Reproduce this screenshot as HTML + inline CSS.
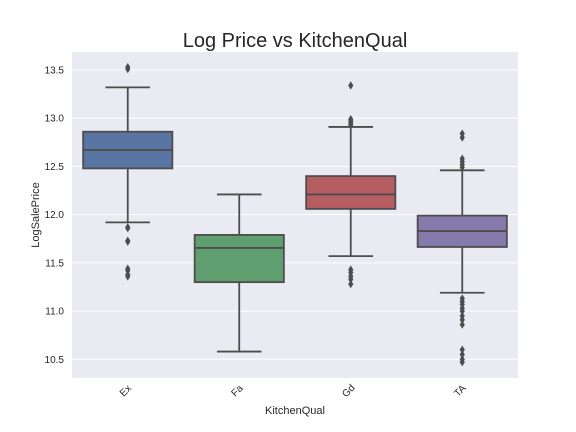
<!DOCTYPE html>
<html><head><meta charset="utf-8"><style>
html,body{margin:0;padding:0;background:#fff;}
svg{display:block;font-family:"Liberation Sans","DejaVu Sans",sans-serif;}
</style></head><body>
<svg id="chart" width="576" height="432" viewBox="0 0 576 432">
<text x="295" y="47" text-anchor="middle" font-size="20" fill="#262626">Log Price vs KitchenQual</text>
<rect x="72" y="52" width="446" height="326" fill="#eaeaf2"/>
<g id="grid"></g><g id="yticks"></g><g id="xticks"></g><g id="boxes"></g>
<text x="295" y="414" text-anchor="middle" font-size="11" fill="#262626">KitchenQual</text>
<text transform="translate(39,215) rotate(-90)" text-anchor="middle" font-size="11" fill="#262626">LogSalePrice</text>
</svg>
<script>
const categories=["Ex","Fa","Gd","TA"];
const colors=["#5975a4","#5f9e6e","#b55d60","#857aab"];
const whiskerHigh=[13.32,12.21,12.91,12.46];
const q3=[12.86,11.79,12.40,11.99];
const median=[12.67,11.655,12.21,11.83];
const q1=[12.48,11.30,12.06,11.665];
const whiskerLow=[11.92,10.58,11.57,11.19];
const outliers=[
 [13.53,13.51,11.87,11.86,11.73,11.72,11.44,11.42,11.38,11.36],
 [],
 [13.34,12.99,12.97,12.95,12.93,11.43,11.40,11.36,11.33,11.28],
 [12.84,12.80,12.58,12.55,12.52,12.49,11.13,11.10,11.07,11.03,11.00,10.95,10.91,10.86,10.60,10.55,10.50,10.47]
];
const yTicks=[10.5,11.0,11.5,12.0,12.5,13.0,13.5];
const yMin=10.306,yMax=13.687;
const L=72,R=518,T=52,B=378;
const NS="http://www.w3.org/2000/svg";
function y(v){return B-(v-yMin)/(yMax-yMin)*(B-T);}
const bw=(R-L)/categories.length;
function xc(i){return L+bw*(i+0.5);}
function mk(tag,attrs,parent){const e=document.createElementNS(NS,tag);for(const k in attrs)e.setAttribute(k,attrs[k]);document.getElementById(parent).appendChild(e);return e;}
yTicks.forEach(t=>{
 const g=mk('line',{x1:L,x2:R,y1:y(t),y2:y(t),stroke:'#fff','stroke-width':1},'grid');
 
 
 const tx=mk('text',{x:L-8,y:y(t)+3.5,'text-anchor':'end','font-size':10,fill:'#262626'},'yticks');
 tx.textContent=t.toFixed(1);
 
 
});
const st='#4d4d4d',sw=1.8;
categories.forEach((c,i)=>{
 const cx=xc(i),hw=bw*0.4,cap=bw*0.2;
 const tx=mk('text',{x:0,y:0,'text-anchor':'middle','font-size':10,fill:'#262626',transform:`translate(${cx},${B+15}) rotate(-45)`},'xticks');
 tx.textContent=c;
 
 
 const w1=mk('line',{x1:cx,x2:cx,y1:y(q3[i]),y2:y(whiskerHigh[i]),stroke:st,'stroke-width':sw},'boxes');
 
 
 const w2=mk('line',{x1:cx,x2:cx,y1:y(q1[i]),y2:y(whiskerLow[i]),stroke:st,'stroke-width':sw},'boxes');
 
 
 [whiskerHigh[i],whiskerLow[i]].forEach(v=>{
  const c2=mk('line',{x1:cx-cap,x2:cx+cap,y1:y(v),y2:y(v),stroke:st,'stroke-width':sw},'boxes');
  
  
 });
 const bx=mk('rect',{x:cx-hw,y:y(q3[i]),width:2*hw,height:y(q1[i])-y(q3[i]),fill:colors[i],stroke:st,'stroke-width':sw},'boxes');
 
 
 const md=mk('line',{x1:cx-hw,x2:cx+hw,y1:y(median[i]),y2:y(median[i]),stroke:st,'stroke-width':sw},'boxes');
 
 
 outliers[i].forEach(v=>{
  const yy=y(v);
  const p=mk('path',{d:`M${cx} ${yy-4.2}L${cx+2.6} ${yy}L${cx} ${yy+4.2}L${cx-2.6} ${yy}Z`,fill:st},'boxes');
  
  
 });
});
</script>
</body></html>
